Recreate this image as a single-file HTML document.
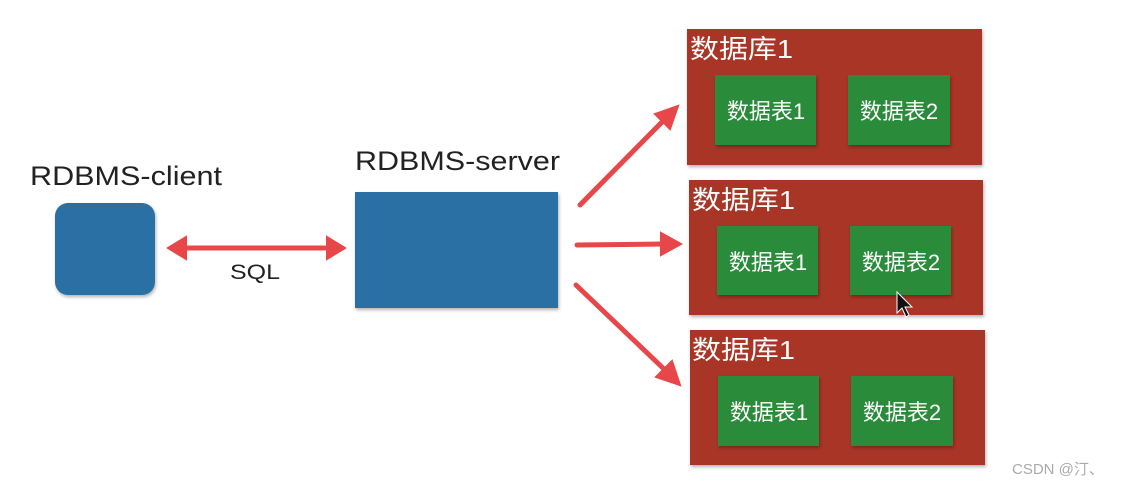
<!DOCTYPE html>
<html><head><meta charset="utf-8"><style>
html,body{margin:0;padding:0;background:#fff;width:1126px;height:486px;overflow:hidden}
text{font-family:"Liberation Sans","Noto Sans CJK SC",sans-serif}
</style></head><body>
<svg width="1126" height="486" xmlns="http://www.w3.org/2000/svg">
<defs>
<filter id="sh" x="-5%" y="-5%" width="115%" height="115%"><feDropShadow dx="1" dy="2" stdDeviation="1.5" flood-color="#000" flood-opacity="0.3"/></filter>
</defs>
<text x="30" y="185" font-size="27" fill="#222" textLength="192" lengthAdjust="spacingAndGlyphs">RDBMS-client</text>
<text x="355" y="170" font-size="27" fill="#222" textLength="205" lengthAdjust="spacingAndGlyphs">RDBMS-server</text>
<rect x="55" y="203" width="100" height="92" rx="13" fill="#2a6fa5" filter="url(#sh)"/>
<rect x="355" y="192" width="203" height="116" fill="#2a6fa5" filter="url(#sh)"/>
<g stroke="#e8474a" stroke-width="5" fill="#e8474a" stroke-linecap="round">
<line x1="182" y1="248" x2="330" y2="248"/>
<polygon points="168,248 186,237 186,259" stroke-width="2"/>
<polygon points="345,248 327,237 327,259" stroke-width="2"/>
<line x1="580" y1="205" x2="664" y2="120"/>
<polygon points="678,106 655,114 670,129" stroke-width="2"/>
<line x1="577" y1="245" x2="664" y2="244"/>
<polygon points="681,244 661,233 661,255" stroke-width="2"/>
<line x1="576" y1="285" x2="665" y2="370"/>
<polygon points="680,385 656,377 672,361" stroke-width="2"/>
</g>
<text x="230" y="279" font-size="21" fill="#222" textLength="50" lengthAdjust="spacingAndGlyphs">SQL</text>
<g filter="url(#sh)">
<rect x="687" y="29" width="295" height="136" fill="#a83428"/>
<rect x="689" y="180" width="294" height="135" fill="#a83428"/>
<rect x="690" y="330" width="295" height="135" fill="#a83428"/>
</g>
<g fill="#fff" font-size="26">
<text x="690" y="58" textLength="103" lengthAdjust="spacingAndGlyphs">数据库1</text>
<text x="692" y="209" textLength="103" lengthAdjust="spacingAndGlyphs">数据库1</text>
<text x="692" y="359" textLength="103" lengthAdjust="spacingAndGlyphs">数据库1</text>
</g>
<g fill="#2a8c3a" filter="url(#sh)">
<rect x="715" y="75" width="101" height="70"/>
<rect x="848" y="75" width="102" height="70"/>
<rect x="717" y="226" width="101" height="69"/>
<rect x="850" y="226" width="101" height="69"/>
<rect x="718" y="376" width="101" height="70"/>
<rect x="851" y="376" width="102" height="70"/>
</g>
<g fill="#fff" font-size="22" text-anchor="middle">
<text x="766" y="119">数据表1</text>
<text x="899" y="119">数据表2</text>
<text x="768" y="270">数据表1</text>
<text x="901" y="270">数据表2</text>
<text x="769" y="420">数据表1</text>
<text x="902" y="420">数据表2</text>
</g>
<polygon points="897,292 897,313 902,308 906,317 909,315 905,307 912,307" fill="#111" stroke="#fff" stroke-width="1"/>
<text x="1012" y="474" font-size="15" fill="#aaa">CSDN @汀、</text>
</svg>
</body></html>
